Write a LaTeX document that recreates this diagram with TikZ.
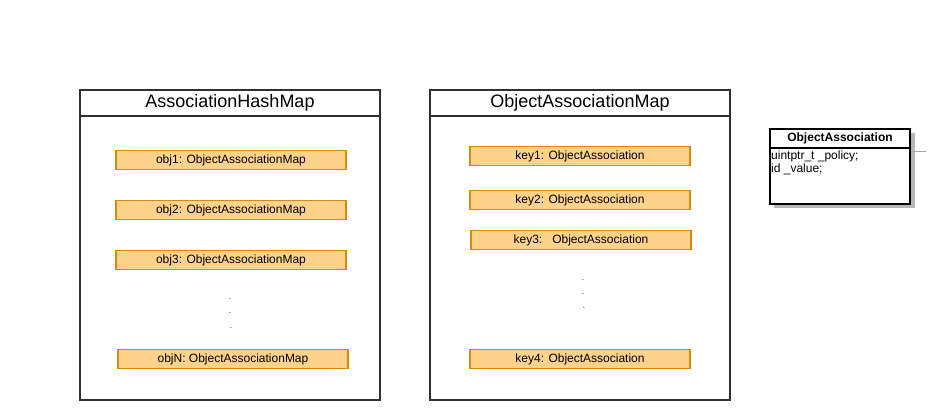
\documentclass[tikz,border=0pt]{standalone}
\usepackage{fontspec}
\setmainfont{Liberation Sans}
\usetikzlibrary{positioning}

\definecolor{entryfill}{HTML}{FDD28B}
\definecolor{entrydraw}{HTML}{D98A0C}
\definecolor{framedraw}{HTML}{303030}

\tikzset{
  frame/.style={draw=framedraw,line width=1.5pt},
  entry/.style={draw=entrydraw,fill=entryfill,line width=1.8pt,minimum height=19pt,inner sep=0pt,font=\fontsize{12}{14}\selectfont},
  title/.style={font=\fontsize{18}{21}\selectfont},
  dot/.style={inner sep=0pt,font=\fontsize{8}{9}\selectfont}
}

\begin{document}
\begin{tikzpicture}[x=1pt,y=-1pt]
        \useasboundingbox (0,0) rectangle (932,420);

        % AssociationHashMap
        \draw[frame] (80,90) rectangle (380,400);
        \draw[frame] (80,116) -- (380,116);
        \node[title] (hashmap) at (230,103) {AssociationHashMap};
        \node[entry,minimum width=230pt] (obj1) at (231,160) {obj1: ObjectAssociationMap};
        \node[entry,minimum width=230pt] (obj2) at (231,210) {obj2: ObjectAssociationMap};
        \node[entry,minimum width=230pt] (obj3) at (231,260) {obj3: ObjectAssociationMap};
        \node[dot] (hdot1) at (230,299) {.};
        \node[dot] (hdot2) at (230,313) {.};
        \node[dot] (hdot3) at (231,328) {.};
        \node[entry,minimum width=230pt] (objN) at (233,359) {objN: ObjectAssociationMap};

        % ObjectAssociationMap
        \draw[frame] (430,90) rectangle (730,400);
        \draw[frame] (430,116) -- (730,116);
        \node[title] (assocmap) at (580,103) {ObjectAssociationMap};
        \node[entry,minimum width=220pt] (key1) at (580,156) {key1: ObjectAssociation};
        \node[entry,minimum width=220pt] (key2) at (580,200) {key2: ObjectAssociation};
        \node[entry,minimum width=220pt] (key3) at (581,240) {key3:\ \ \ ObjectAssociation};
        \node[dot] (kdot1) at (583,280) {.};
        \node[dot] (kdot2) at (583,294) {.};
        \node[dot] (kdot3) at (584,308) {.};
        \node[entry,minimum width=220pt] (key4) at (580,359) {key4: ObjectAssociation};

        % ObjectAssociation
        \fill[black!28] (774,133) rectangle (915,208);
        \draw[black!35,line width=0.8pt] (910,151) -- (926,151);
        \draw[fill=white,line width=1.8pt] (770,129) rectangle (910,204);
        \draw[line width=1.5pt] (770,148) -- (910,148);
        \node[font=\fontsize{12}{14}\selectfont\bfseries] (assoc) at (840,138.5) {ObjectAssociation};
        \node[anchor=north west,inner sep=0pt,align=left,font=\fontsize{12}{13.5}\selectfont] (fields) at (771,150.5) {uintptr\_t \_policy;\\id \_value;};
      \end{tikzpicture}
\end{document}
